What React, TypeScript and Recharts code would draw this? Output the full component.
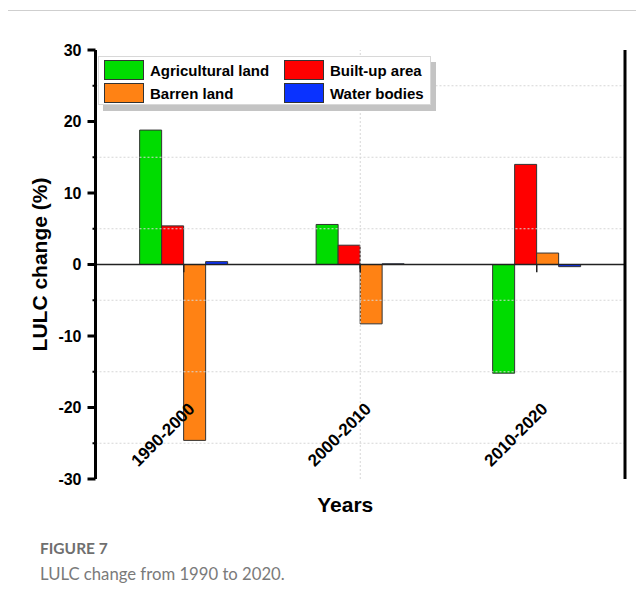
import { BarChart, Bar, XAxis, YAxis, ReferenceLine, Legend } from 'recharts';

// LULC change (%) per decade
const periods = ['1990-2000', '2000-2010', '2010-2020'];
const agricultural = [18.8, 5.6, -15.2];
const builtUp = [5.4, 2.7, 14.0];
const barren = [-24.6, -8.3, 1.6];
const water = [0.4, 0.1, -0.3];

const yTicks = [-30, -25, -20, -15, -10, -5, 0, 5, 10, 15, 20, 25, 30];
const gridValues = [-25, -15, -5, 5, 15, 25];
const boundaries = [1, 2];

const series = [
	{ key: 'agricultural', name: 'Agricultural land', color: '#00dc00' },
	{ key: 'builtUp', name: 'Built-up area', color: '#ff0000' },
	{ key: 'barren', name: 'Barren land', color: '#ff8214' },
	{ key: 'water', name: 'Water bodies', color: '#0a32ff' },
];

const data = periods.map((period, i) => ({
	period,
	agricultural: agricultural[i],
	builtUp: builtUp[i],
	barren: barren[i],
	water: water[i],
}));

const FONT = '"Liberation Sans", Arial, sans-serif';

const YTick = (props: any) => {
	const { x, y, payload } = props;
	const major = payload.value % 10 === 0;
	const ax = x + 14;
	return (
		<g>
			<line x1={ax - (major ? 8 : 3)} x2={ax} y1={y} y2={y} stroke="#000" strokeWidth={major ? 3 : 2} />
			{major && (
				<text x={x} y={y} textAnchor="end" dominantBaseline="central" fontFamily={FONT} fontWeight="bold" fontSize={16} fill="#000">
					{payload.value}
				</text>
			)}
		</g>
	);
};

const XTick = (props: any) => {
	const { x, y, payload } = props;
	const tx = x + 12;
	const ty = y - 69;
	return (
		<text x={tx} y={ty} textAnchor="end" transform={`rotate(-45 ${tx} ${ty})`} fontFamily={FONT} fontWeight="bold" fontSize={17} fill="#000">
			{payload.value}
		</text>
	);
};

const LegendBox = (props: any) => {
	const { payload } = props;
	// keep the series order (Recharts sorts legend items by name)
	const items = [...(payload || [])].sort(
		(a: any, b: any) => series.findIndex((s) => s.name === a.value) - series.findIndex((s) => s.name === b.value)
	);
	return (
		<div style={{
			display: 'grid', gridTemplateColumns: '180px 142px', rowGap: 3, padding: '3px 4px 1px 5px',
			background: '#fff', border: '1px solid #d8d8d8', boxShadow: '5px 6px 0 #c4c4c4',
			fontFamily: FONT, fontWeight: 'bold', fontSize: 15, color: '#000',
		}}>
			{items.map((it: any) => (
				<div key={it.value} style={{ display: 'flex', alignItems: 'center', height: 20 }}>
					<span style={{ width: 38, height: 18, background: it.color, border: '1px solid #333', marginRight: 6 }} />
					<span>{it.value}</span>
				</div>
			))}
		</div>
	);
};

export default function App() {
	return (
		<div style={{ position: 'relative', width: 644, height: 607, margin: -8, background: '#fff', overflow: 'hidden' }}>
			<div style={{ position: 'absolute', left: 7, top: 10, width: 640, height: 600, borderLeft: '1px solid #cfcfcf', borderTop: '1px solid #cfcfcf' }} />
			<div style={{ position: 'absolute', left: 0, top: 0 }}>
				<BarChart width={644} height={607} data={data} margin={{ top: 50, right: 18, bottom: 88, left: 0 }} barCategoryGap="25%" barGap={0}>
					<XAxis dataKey="period" axisLine={false} tickLine={false} tickSize={0} tickMargin={0} height={40} tick={<XTick />} interval={0}
						label={{ value: 'Years', position: 'insideBottom', offset: 7, dx: -15, style: { fontFamily: FONT, fontWeight: 'bold', fontSize: 21, fill: '#000' } }} />
					<XAxis xAxisId="num" type="number" domain={[0, 3]} hide />
					<YAxis domain={[-30, 30]} ticks={yTicks} interval={0} width={95.5} tickLine={false} tickSize={8} tickMargin={6} tick={<YTick />}
						axisLine={{ stroke: '#000', strokeWidth: 3 }}
						label={{ value: 'LULC change (%)', angle: -90, position: 'center', dx: -8, style: { fontFamily: FONT, fontWeight: 'bold', fontSize: 21, fill: '#000' } }} />
					<YAxis yAxisId="r" orientation="right" domain={[-30, 30]} ticks={[]} tick={false} tickLine={false} width={1} axisLine={{ stroke: '#000', strokeWidth: 3 }} />
					{gridValues.map((v) => (
						<ReferenceLine key={'g' + v} y={v} stroke="#d6d6d6" strokeDasharray="2 2" />
					))}
					{boundaries.map((b) => (
						<ReferenceLine key={'v' + b} xAxisId="num" x={b} stroke="#d6d6d6" strokeDasharray="2 2" />
					))}
					<Legend layout="vertical" align="center" verticalAlign="middle" content={<LegendBox />}
						wrapperStyle={{ position: 'absolute', left: 98, top: 56, width: 'auto', height: 'auto' }} />
					{series.map((s) => (
						<Bar key={s.key} dataKey={s.key} name={s.name} fill={s.color} stroke="#333" strokeWidth={1} isAnimationActive={false} />
					))}
					<ReferenceLine y={0} stroke="#222" strokeWidth={1.5} />
					{periods.map((p) => (
						<ReferenceLine key={'t' + p} segment={[{ x: p, y: 0 }, { x: p, y: -1.1 }]} stroke="#222" strokeWidth={1.5} />
					))}
					{boundaries.map((b) => (
						<ReferenceLine key={'b' + b} xAxisId="num" segment={[{ x: b, y: 0 }, { x: b, y: -0.55 }]} stroke="#222" strokeWidth={1.5} />
					))}
				</BarChart>
			</div>
			<div style={{ position: 'absolute', left: 40, top: 539, fontFamily: 'Lato, sans-serif', fontWeight: 'bold', fontSize: 15.5, color: '#6f6f6f' }}>
				FIGURE 7
			</div>
			<div style={{ position: 'absolute', left: 40, top: 564, fontFamily: 'Lato, sans-serif', fontSize: 16.7, color: '#7a7a7a' }}>
				LULC change from 1990 to 2020.
			</div>
		</div>
	);
}
